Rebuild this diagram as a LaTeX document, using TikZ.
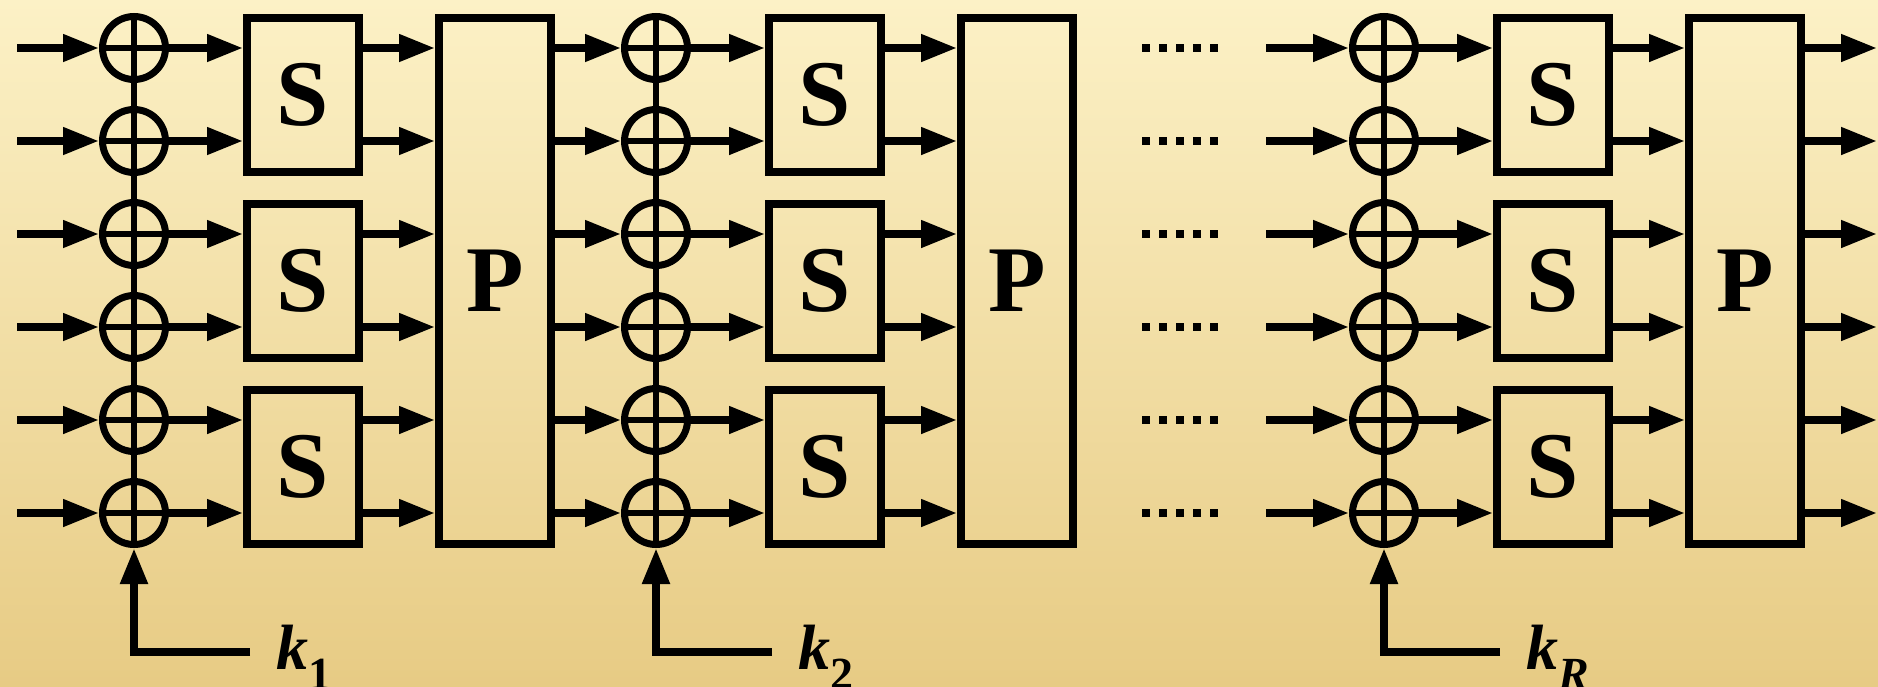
\documentclass[tikz,border=0pt]{standalone}
\usepackage{fontspec}
\setmainfont{Liberation Serif}
\usetikzlibrary{arrows.meta}
\definecolor{bgtop}{RGB}{252,241,198}
\definecolor{bgbot}{RGB}{231,203,132}
\begin{document}
\begin{tikzpicture}[x=1pt,y=-1pt,>={Triangle[length=36pt,width=26pt]},
 xorbox/.style={circle,draw,line width=7pt,minimum size=63pt,inner sep=0pt},
 sbox/.style={draw,line width=8pt,minimum width=112pt,minimum height=154pt,inner sep=0pt,font=\fontsize{94}{94}\selectfont\bfseries},
 pbox/.style={sbox,minimum height=526pt},
 wire/.style={->,line width=7.5pt},
 cross/.style={line width=5.5pt}]
\useasboundingbox (0,0) rectangle (1878,686);
\shade[top color=bgtop,bottom color=bgbot] (0,0) rectangle (1878,686);
\foreach \c/\k/\n in {134/1/1,656/2/2,1384/{\itshape R}/3}{
 \foreach \i in {1,...,6} \node[xorbox] (x\n\i) at (\c,{48+93*(\i-1)}){};
 \foreach \j in {1,2,3} \node[sbox] (s\n\j) at (\c+169,{94.5+186*(\j-1)}){S};
 \node[pbox] (p\n) at (\c+361,280.5){P};
 \draw[cross] (x\n1.north)--(x\n6.south);
 \foreach \i/\j in {1/1,2/1,3/2,4/2,5/3,6/3}{
  \draw[cross] (x\n\i.west)--(x\n\i.east);
  \draw[wire] (x\n\i.east)--(s\n\j.west |- x\n\i);
  \draw[wire] (s\n\j.east |- x\n\i)--(p\n.west |- x\n\i);}
 \coordinate (kin\n) at (\c+116,652);
 \draw[wire,line width=8pt] (kin\n) -| (x\n6.south);
 \node[anchor=base west,font=\fontsize{64}{64}\selectfont\bfseries,inner sep=0pt] (k\n) at (\c+142,669){\textit{k}\raisebox{-20pt}{\fontsize{46}{46}\selectfont\k}};
}
\foreach \i in {1,...,6}{
 \coordinate (in\i) at (17,{48+93*(\i-1)});
 \coordinate (mid\i) at (1266,{48+93*(\i-1)});
 \coordinate (out\i) at (1877,{48+93*(\i-1)});
 \draw[wire] (in\i)--(x1\i.west);
 \draw[wire] (p1.east |- x1\i)--(x2\i.west);
 \draw[wire] (mid\i)--(x3\i.west);
 \draw[wire] (p3.east |- x3\i)--(out\i);
 \draw[line width=8pt,dash pattern=on 8pt off 9pt] (1142,{48+93*(\i-1)})--(1218,{48+93*(\i-1)});}
\end{tikzpicture}
\end{document}
